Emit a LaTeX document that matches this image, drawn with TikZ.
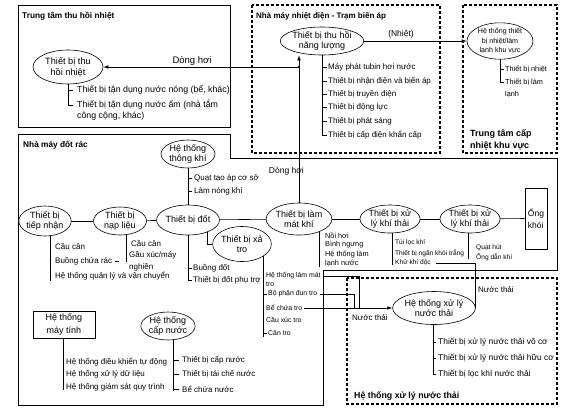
\documentclass[tikz,border=0pt]{standalone}
\usepackage{fontspec}
\setmainfont{Liberation Sans}
\usetikzlibrary{shapes.geometric,arrows.meta,backgrounds,calc}
\begin{document}
\begin{tikzpicture}[x=1pt,y=-1pt,
 ell/.style={ellipse, draw, fill=white, line width=0.6pt, inner sep=0pt, align=center, font=\fontsize{9}{10.5}\selectfont},
 lst/.style={anchor=west, inner sep=0pt, font=\fontsize{8}{9}\selectfont},
 sml/.style={anchor=west, inner sep=0pt, font=\fontsize{7.3}{8}\selectfont},
 ashl/.style={anchor=west, inner sep=0pt, font=\fontsize{6.9}{8}\selectfont},
 tny/.style={anchor=west, inner sep=0pt, font=\fontsize{6.6}{7.5}\selectfont},
 ttl/.style={anchor=west, inner sep=0pt, font=\bfseries\fontsize{8.3}{9}\selectfont},
 lbl/.style={inner sep=0pt, font=\fontsize{8.5}{9}\selectfont},
 conn/.style={line width=0.6pt},
 arr/.style={conn, -{Latex[length=5pt,width=3.5pt]}},
 solidbox/.style={line width=1pt},
 dbox/.style={line width=1.1pt, dash pattern=on 3pt off 2pt}]
\useasboundingbox (0,0) rectangle (576,416);

% ---------- boxes ----------
\draw[solidbox] (18,5) rectangle (230,127);
\draw[dbox] (252,5) rectangle (440,153);
\draw[dbox] (463,5) rectangle (557,153);
\draw[solidbox] (18,134) -- (230,134) -- (230,158) -- (557,158) -- (557,270) -- (323,270) -- (323,405) -- (18,405) -- cycle;
\draw[dbox] (347,278) rectangle (557,404);

% ---------- titles ----------
\node[ttl] (t1) at (22,16) {Trung tâm thu hồi nhiệt};
\node[ttl, font=\bfseries\fontsize{8}{9}\selectfont] (t2) at (256,16) {Nhà máy nhiệt điện - Trạm biến áp};
\node[ttl, font=\bfseries\fontsize{9}{10}\selectfont] (t3a) at (470,134) {Trung tâm cấp};
\node[ttl, font=\bfseries\fontsize{9}{10}\selectfont] (t3b) at (470,146) {nhiệt khu vực};
\node[ttl] (t4) at (23,145) {Nhà máy đốt rác};
\node[ttl, font=\bfseries\fontsize{8.8}{10}\selectfont] (t5) at (354,396) {Hệ thống xử lý nước thải};

% ---------- main nodes ----------
\node[ell, minimum width=70pt, minimum height=34pt, font=\fontsize{9.2}{11}\selectfont] (heat) at (68,67) {Thiết bị thu\\hồi nhiệt};
\node[ell, minimum width=66pt, minimum height=28pt] (energy) at (322,41) {Thiết bị thu hồi\\năng lượng};
\node[ell, minimum width=66pt, minimum height=36pt, font=\fontsize{7.1}{9.6}\selectfont] (region) at (500,41) {Hệ thống thiết\\bị nhiệt/làm\\lạnh khu vực};
\node[ell, minimum width=54pt, minimum height=28pt] (vent) at (188,154) {Hệ thống\\thông khí};
\node[ell, minimum width=54pt, minimum height=30pt] (burn) at (188,220) {Thiết bị đốt};
\node[ell, minimum width=47pt, minimum height=30pt] (recv) at (45,221) {Thiết bị\\tiếp nhận};
\node[ell, minimum width=53pt, minimum height=28pt] (feed) at (120,221) {Thiết bị\\nạp liệu};
\node[ell, minimum width=57pt, minimum height=35pt] (ash) at (242,244) {Thiết bị xả\\tro};
\node[ell, minimum width=55pt, minimum height=32pt] (cool) at (299,219) {Thiết bị làm\\mát khí};
\node[ell, minimum width=52pt, minimum height=28pt] (gas1) at (390,219) {Thiết bị xử\\lý khí thải};
\node[ell, minimum width=54pt, minimum height=28pt] (gas2) at (470,219) {Thiết bị xử\\lý khí thải};
\node[draw, fill=white, line width=0.6pt, minimum width=22pt, minimum height=61pt, inner sep=1pt, align=left, font=\fontsize{8.5}{12}\selectfont] (stack) at (536,218.5) {Ống\\khói};
\node[draw, fill=white, line width=0.6pt, minimum width=62pt, minimum height=27pt, inner sep=0pt, align=center, font=\fontsize{9}{12.5}\selectfont] (comp) at (64,324.5) {Hệ thống\\máy tính};
\node[ell, minimum width=53pt, minimum height=28pt] (water) at (168,326) {Hệ thống\\cấp nước};
\node[ell, minimum width=67pt, minimum height=33pt] (ww) at (434,308) {Hệ thống xử lý\\nước thải};

% ---------- item lists ----------
\node[lst, font=\fontsize{8.8}{9}\selectfont] (hi1) at (77,90) {Thiết bị tận dụng nước nóng (bể, khác)};
\node[lst, font=\fontsize{8.8}{9}\selectfont] (hi2) at (77,105) {Thiết bị tận dụng nước ấm (nhà tắm};
\node[lst, font=\fontsize{8.8}{9}\selectfont] (hi3) at (77,116) {công cộng, khác)};

\node[lst] (e1) at (328,67) {Máy phát tubin hơi nước};
\node[lst] (e2) at (328,81) {Thiết bị nhận điện và biến áp};
\node[lst] (e3) at (328,94) {Thiết bị truyền điện};
\node[lst] (e4) at (328,107) {Thiết bị động lực};
\node[lst] (e5) at (328,121) {Thiết bị phát sáng};
\node[lst] (e6) at (328,135) {Thiết bị cấp điện khẩn cấp};

\node[sml] (r1) at (505,69) {Thiết bị nhiệt};
\node[sml] (r2) at (505,82) {Thiết bị làm};
\node[sml] (r3) at (505,94) {lạnh};

\node[lst] (v1) at (194,178) {Quạt tạo áp cơ sở};
\node[lst] (v2) at (194,191) {Làm nóng khí};

\node[lst] (c1) at (55,246) {Cầu cân};
\node[lst] (c2) at (55,261) {Buồng chứa rác};
\node[lst] (c3) at (55,276) {Hệ thống quản lý và vận chuyển};

\node[lst] (f1) at (131,243) {Cầu cân};
\node[lst] (f2) at (129,255) {Gầu xúc/máy};
\node[lst] (f3) at (129,267) {nghiền};

\node[lst] (b1) at (193,268) {Buồng đốt};
\node[lst] (b2) at (193,280) {Thiết bị đốt phụ trợ};

\node[sml] (k1) at (325,236) {Nồi hơi};
\node[sml] (k2) at (325,245) {Bình ngưng};
\node[sml] (k3) at (325,254) {Hệ thống làm};
\node[sml] (k4) at (325,263) {lạnh nước};

\node[tny] (g11) at (395,243) {Túi lọc khí};
\node[tny] (g12) at (395,253) {Thiết bị ngăn khói trắng};
\node[tny] (g13) at (395,263) {Khử khí độc};

\node[tny] (g21) at (476,248) {Quạt hút};
\node[tny] (g22) at (476,257) {Ống dẫn khí};

\node[ashl] (a1) at (266,276) {Hệ thống làm mát};
\node[ashl] (a2) at (266,284) {tro};
\node[ashl] (a3) at (268,294) {Bộ phận đun tro};
\node[ashl] (a4) at (266,308) {Bể chứa tro};
\node[ashl] (a5) at (266,320) {Cầu xúc tro};
\node[ashl] (a6) at (268,333) {Cân tro};

\node[lst] (m1) at (66,362) {Hệ thống điều khiển tự động};
\node[lst] (m2) at (66,374) {Hệ thống xử lý dữ liệu};
\node[lst] (m3) at (66,387) {Hệ thống giám sát quy trình};

\node[lst] (w1) at (182,360) {Thiết bị cấp nước};
\node[lst] (w2) at (182,374) {Thiết bị tái chế nước};
\node[lst] (w3) at (182,389) {Bể chứa nước};

\node[lst, font=\fontsize{8.4}{9}\selectfont] (ww1) at (438,342) {Thiết bị xử lý nước thải vô cơ};
\node[lst, font=\fontsize{8.4}{9}\selectfont] (ww2) at (438,358) {Thiết bị xử lý nước thải hữu cơ};
\node[lst, font=\fontsize{8.4}{9}\selectfont] (ww3) at (438,374) {Thiết bị lọc khí nước thải};

% ---------- labels ----------
\node[lbl, font=\fontsize{9.5}{10}\selectfont] (l1) at (192,61) {Dòng hơi};
\node[lbl, anchor=east] (l2) at (304,171) {Dòng hơi};
\node[lbl] (l3) at (401,34) {(Nhiệt)};
\node[lst] (l4) at (478,290) {Nước thải};
\node[lst] (l5) at (352,318) {Nước thải};

% ---------- connectors ----------
\begin{scope}[on background layer]
\fill[white] (0,0) rectangle (576,416);
% flow chain
\draw[conn] (recv) -- (feed);
\draw[conn] (feed) -- (burn);
\draw[conn] (burn) -- (cool);
\draw[conn] (cool) -- (gas1);
\draw[conn] (gas1) -- (gas2);
\draw[conn] (gas2.center) -- (stack.west);
\draw[conn] (vent) -- (burn);
\draw[conn] ([xshift=19pt]burn.center) |- (ash.west);
% steam
\coordinate (j) at (cool.north |- heat.east);
\draw[arr] (cool.north) -- (cool.north |- energy.south);
\draw[arr] (j) -- (heat.east);
\fill (j) circle (1.3pt);
\draw[arr] (energy.east) -- (region.west);
% heat recovery list
\draw[conn] (heat.center) |- ([xshift=-4pt]hi2.west);
\draw[conn] ([xshift=-4pt]hi1.west) -- (hi1.west -| heat.center);
% energy list
\draw[conn] (energy.center) |- ([xshift=-1pt]e6.west);
\foreach \i in {1,...,5} \draw[conn] ([xshift=-1pt]e\i.west) -- (e\i.west -| energy.center);
% region list
\draw[conn] (region.center) |- ([xshift=-1pt]r2.west);
\draw[conn] ([xshift=-1pt]r1.west) -- (r1.west -| region.center);
% ventilation list
\draw[conn] ([xshift=-2pt]v1.west) -- (v1.west -| vent.center);
\draw[conn] ([xshift=-2pt]v2.west) -- (v2.west -| vent.center);
% burner list
\draw[conn] (burn.center) |- ([xshift=-1pt]b2.west);
\draw[conn] ([xshift=-1pt]b1.west) -- (b1.west -| burn.center);
% receiving list
\draw[conn] ([xshift=5pt]recv.center) -- ([xshift=5pt]recv.center |- 0,281);
% feeding list
\draw[conn] ([xshift=6pt]feed.center) -- ([xshift=6pt]feed.center |- 0,262);
\draw[conn] ([xshift=3pt]c2.east) -- ([xshift=7pt]c2.east);
% cooling list
\draw[conn] ([xshift=20pt]cool.center) -- ([xshift=20pt]cool.center |- 0,267);
% gas lists
\draw[conn] ([xshift=2pt]gas1.center) -- ([xshift=2pt]gas1.center |- 0,265);
\draw[conn] ([xshift=-2pt]gas2.center) -- ([xshift=-2pt]gas2.center |- 0,259);
% ash list
\draw[conn] ([xshift=21pt]ash.center) -- ([xshift=21pt]ash.center |- 0,337);
\draw[conn] ([xshift=-1pt]a3.west) -- ++(-3,0);
\draw[conn] ([xshift=-1pt]a6.west) -- ++(-3,0);
% computer list
\draw[conn] ([xshift=-1pt]comp.south) -- ([xshift=-1pt]comp.south |- 0,390);
% water list
\draw[conn] ([xshift=5pt]water.center) -- ([xshift=5pt]water.center |- 0,391);
\foreach \i in {1,2,3} \draw[conn] ([xshift=-3pt]w\i.west) -- ([xshift=-8pt]w\i.west);
% waste water list
\coordinate (wwst) at ([xshift=-1pt]ww.center);
\draw[conn] (wwst) |- ([xshift=-2pt]ww3.west);
\foreach \i in {1,2} \draw[conn] ([xshift=-2pt]ww\i.west) -- (ww\i.west -| wwst);
% ash -> waste water
\coordinate (q1) at (359,308);
\coordinate (q2) at (354,308);
\draw[conn] ([xshift=2pt]a1.east) -| (q1);
\draw[conn] ([xshift=2pt]a3.east) -| (q2);
\draw[arr] ([xshift=2pt]a4.east) -- (ww.west);
% gas -> waste water
\coordinate (kx) at (475,263);
\draw[arr] ([xshift=5pt]g13.east) -- (kx) |- (ww.east);
\end{scope}
\end{tikzpicture}
\end{document}
